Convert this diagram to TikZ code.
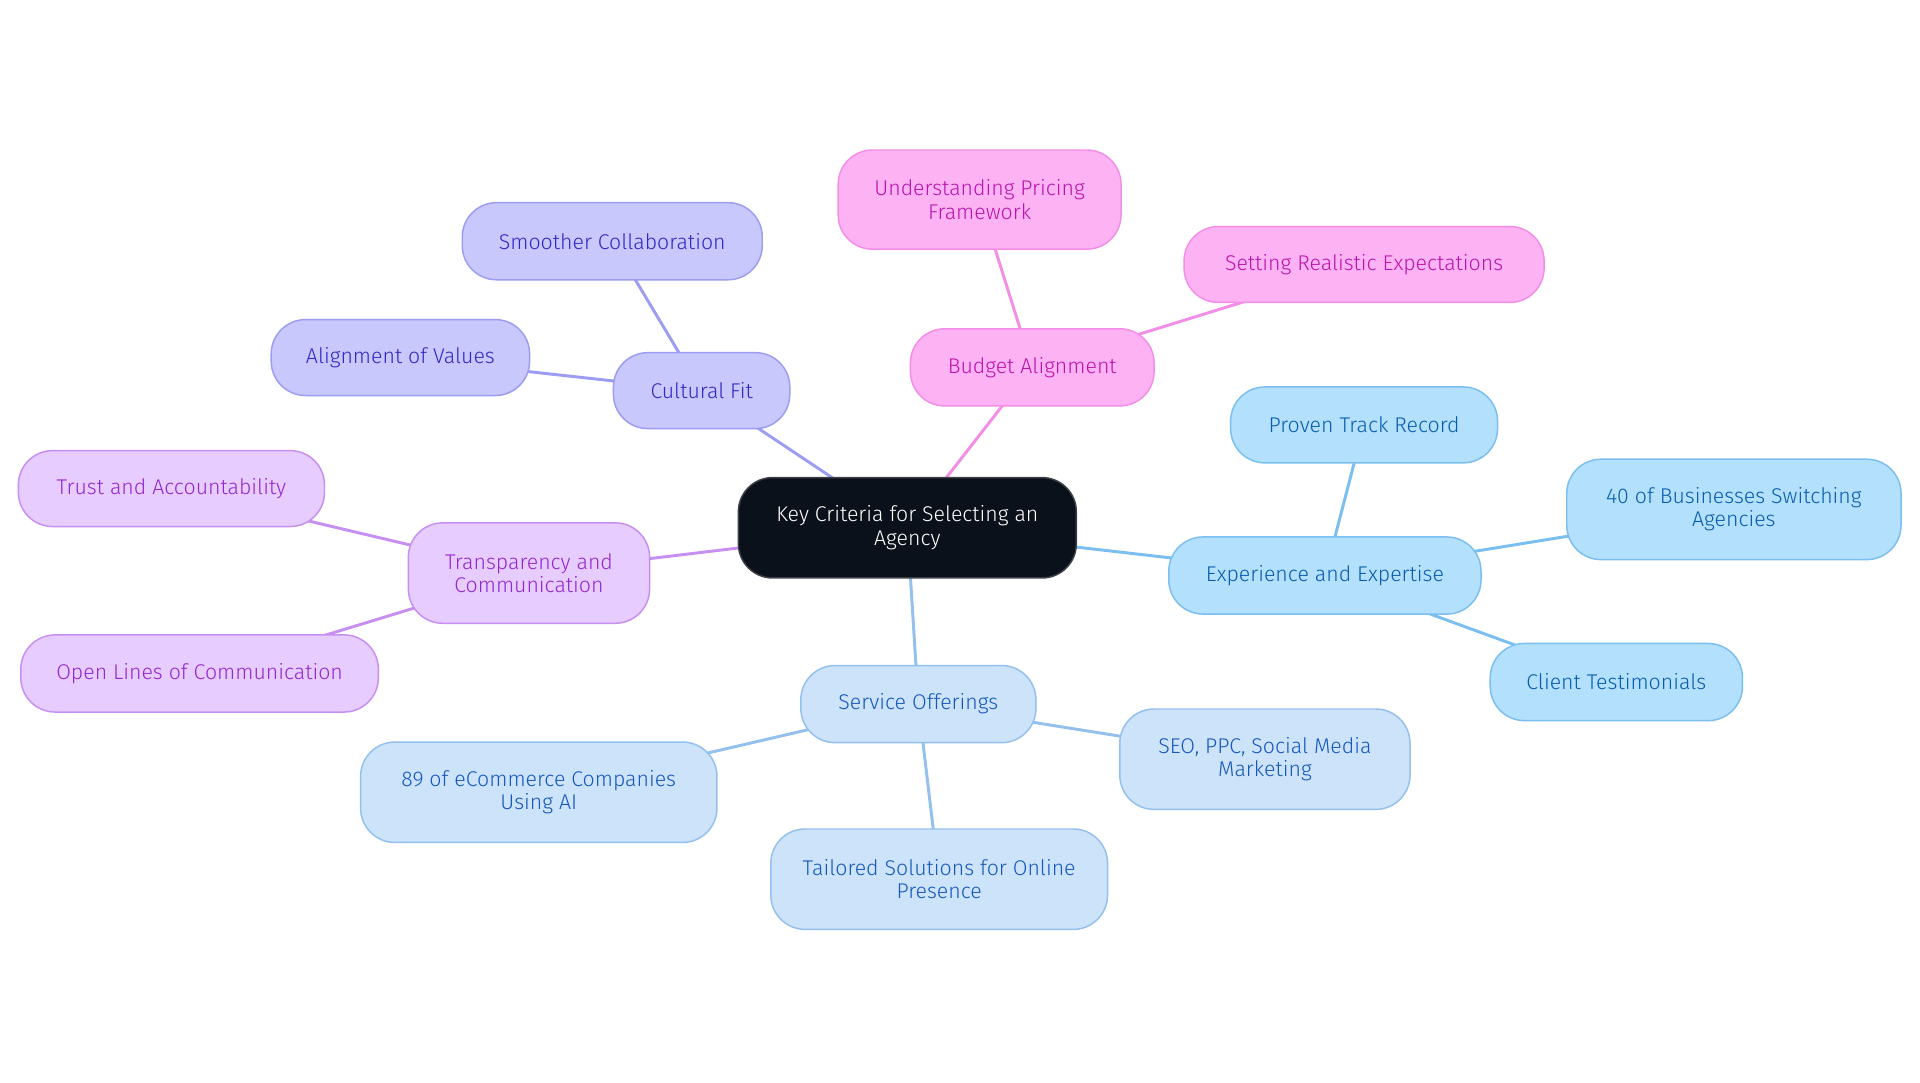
\documentclass[tikz,border=0pt]{standalone}
\usepackage{fontspec}
\setmainfont{Fira Sans Light}
\usetikzlibrary{backgrounds}
\definecolor{ctrfill}{HTML}{0B111A}
\definecolor{cfFill}{HTML}{C8C8FC}\definecolor{cfLine}{HTML}{9C9CF2}\definecolor{cfText}{HTML}{3328C4}
\definecolor{baFill}{HTML}{FDB3F3}\definecolor{baLine}{HTML}{F28EE6}\definecolor{baText}{HTML}{BA14AC}
\definecolor{exFill}{HTML}{B3E0FC}\definecolor{exLine}{HTML}{7BBEF0}\definecolor{exText}{HTML}{085CB0}
\definecolor{soFill}{HTML}{CCE3FA}\definecolor{soLine}{HTML}{94C0EE}\definecolor{soText}{HTML}{1658BE}
\definecolor{trFill}{HTML}{E6CCFF}\definecolor{trLine}{HTML}{C78FF2}\definecolor{trText}{HTML}{9428D0}
\tikzset{
  box/.style={rounded corners=14pt, draw, line width=0.6pt, align=center, inner sep=0pt,
    font=\fontsize{8.7}{9.5}\selectfont},
  ctr/.style={box, fill=ctrfill, draw=ctrfill!80!white, text=white},
  cf/.style={box, fill=cfFill, draw=cfLine, text=cfText},
  ba/.style={box, fill=baFill, draw=baLine, text=baText},
  ex/.style={box, fill=exFill, draw=exLine, text=exText},
  so/.style={box, fill=soFill, draw=soLine, text=soText},
  tr/.style={box, fill=trFill, draw=trLine, text=trText},
  lk/.style={line width=1.2pt},
  sz/.style 2 args={minimum width=#1pt, minimum height=#2pt}
}
\begin{document}
\begin{tikzpicture}[x=0.5pt, y=-0.5pt]
\useasboundingbox (0,0) rectangle (1568,884);
% center
\node[ctr, sz={138}{41}] (c) at (741,431) {Key Criteria for Selecting an\\Agency};
% cultural fit
\node[cf, sz={72}{31}] (cf) at (573,319) {Cultural Fit};
\node[cf, sz={122.5}{31.5}] (cf1) at (500,197) {Smoother Collaboration};
\node[cf, sz={105.5}{31}] (cf2) at (327,292) {Alignment of Values};
% budget
\node[ba, sz={99.5}{31.5}] (ba) at (843,300) {Budget Alignment};
\node[ba, sz={115.5}{40.5}] (ba1) at (800,163) {Understanding Pricing\\Framework};
\node[ba, sz={147}{31}] (ba2) at (1114,216) {Setting Realistic Expectations};
% experience
\node[ex, sz={127.5}{31.5}] (ex) at (1082,470) {Experience and Expertise};
\node[ex, sz={109}{31}] (ex1) at (1114,347) {Proven Track Record};
\node[ex, sz={136.5}{41}] (ex2) at (1416,416) {40 of Businesses Switching\\Agencies};
\node[ex, sz={103}{31.5}] (ex3) at (1320,557) {Client Testimonials};
% service
\node[so, sz={96}{31.5}] (so) at (750,575) {Service Offerings};
\node[so, sz={145.5}{41}] (so1) at (440,647) {89 of eCommerce Companies\\Using AI};
\node[so, sz={137.5}{41}] (so2) at (767,718) {Tailored Solutions for Online\\Presence};
\node[so, sz={118.5}{41}] (so3) at (1033,620) {SEO, PPC, Social Media\\Marketing};
% transparency
\node[tr, sz={98.5}{41}] (tr) at (432,468) {Transparency and\\Communication};
\node[tr, sz={125}{31}] (tr1) at (140,399) {Trust and Accountability};
\node[tr, sz={146}{31.5}] (tr2) at (163,550) {Open Lines of Communication};
% links
\begin{scope}[on background layer]
\fill[white] (0,0) rectangle (1568,884);
\draw[lk, cfLine] (c.center) -- (cf.center);
\draw[lk, cfLine] (cf.center) -- (cf1.center);
\draw[lk, cfLine] (cf.center) -- (cf2.center);
\draw[lk, baLine] (c.center) -- (ba.center);
\draw[lk, baLine] (ba.center) -- (ba1.center);
\draw[lk, baLine] (ba.center) -- (ba2.center);
\draw[lk, exLine] (c.center) -- (ex.center);
\draw[lk, exLine] (ex.center) -- (ex1.center);
\draw[lk, exLine] (ex.center) -- (ex2.center);
\draw[lk, exLine] (ex.center) -- (ex3.center);
\draw[lk, soLine] (c.center) -- (so.center);
\draw[lk, soLine] (so.center) -- (so1.center);
\draw[lk, soLine] (so.center) -- (so2.center);
\draw[lk, soLine] (so.center) -- (so3.center);
\draw[lk, trLine] (c.center) -- (tr.center);
\draw[lk, trLine] (tr.center) -- (tr1.center);
\draw[lk, trLine] (tr.center) -- (tr2.center);
\end{scope}
\end{tikzpicture}
\end{document}
